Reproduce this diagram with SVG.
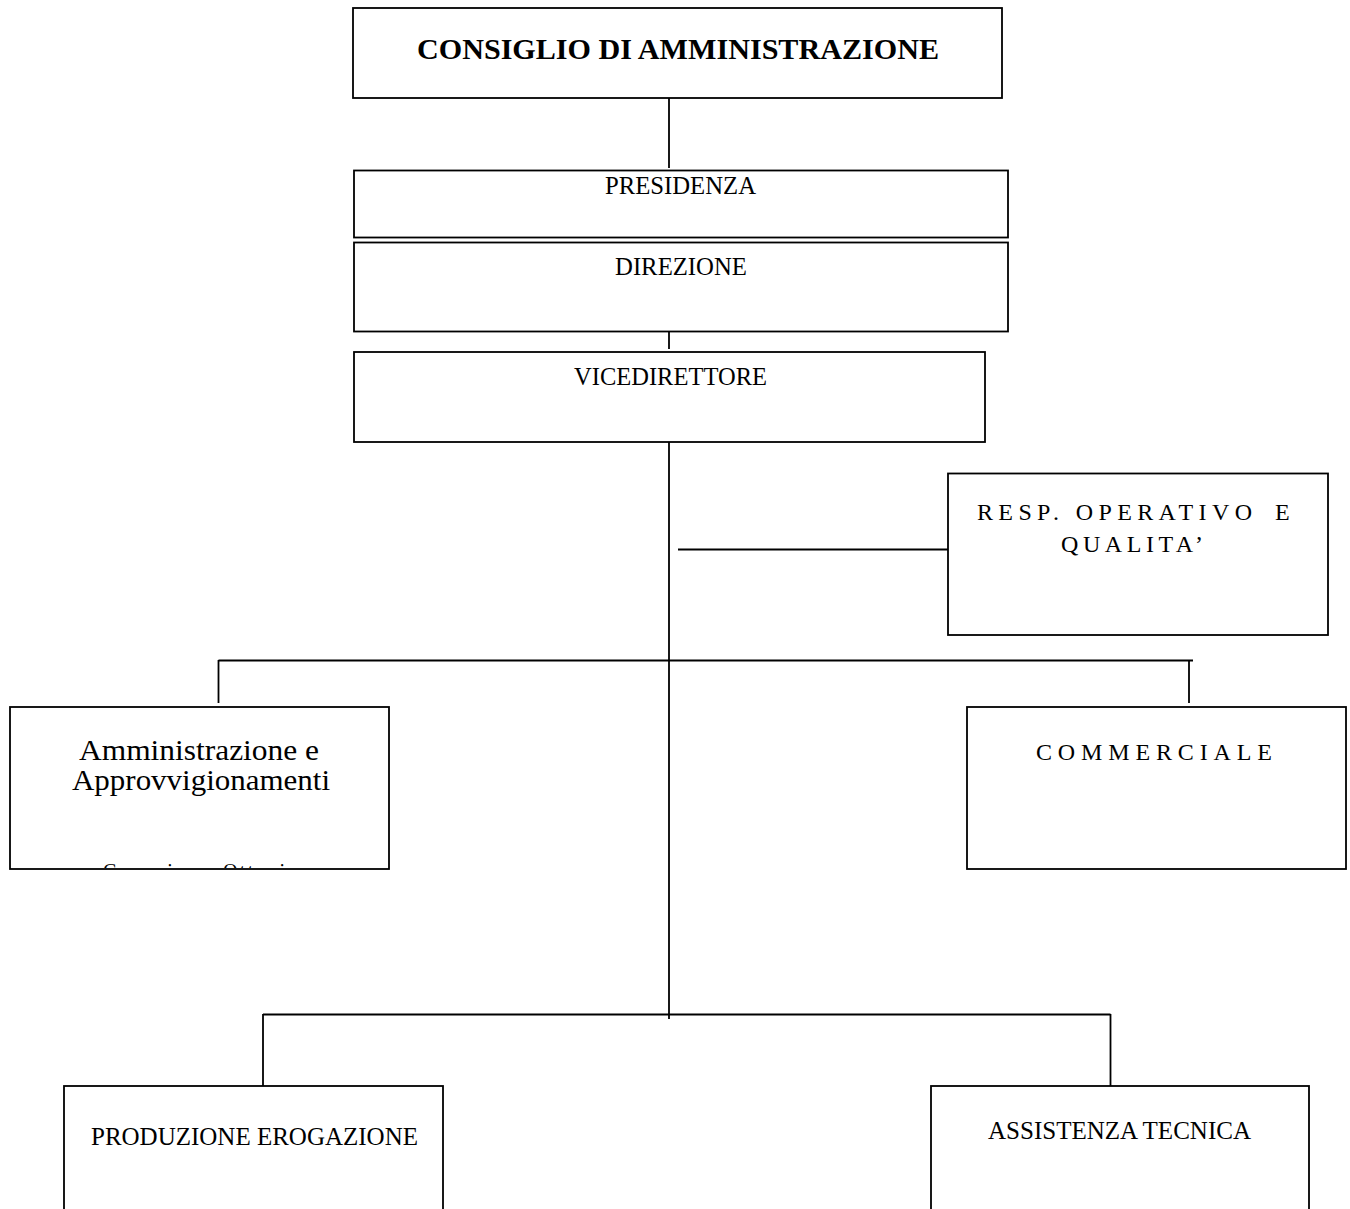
<svg xmlns="http://www.w3.org/2000/svg" width="1350" height="1209" viewBox="0 0 1350 1209">
<style>
  .box { fill: #ffffff; stroke: #000000; stroke-width: 1.8; }
  .ln { stroke: #000000; stroke-width: 1.8; fill: none; }
  text { font-family: "Liberation Serif", "Times New Roman", serif; fill: #000000; }
  .t25 { font-size: 25px; }
  .t24 { font-size: 24px; }
</style>
<defs>
  <clipPath id="clipAmm"><rect x="10" y="707" width="379" height="161"/></clipPath>
</defs>
<rect width="1350" height="1209" fill="#ffffff"/>

<g id="connectors">
  <line class="ln" x1="669" y1="98" x2="669" y2="168"/>
  <line class="ln" x1="669" y1="216" x2="669" y2="238"/>
  <line class="ln" x1="669" y1="326" x2="669" y2="349"/>
  <line class="ln" x1="669" y1="442" x2="669" y2="1019"/>
  <line class="ln" x1="678" y1="549.5" x2="948" y2="549.5"/>
  <line class="ln" x1="218.5" y1="660.5" x2="1193" y2="660.5"/>
  <line class="ln" x1="218.5" y1="660" x2="218.5" y2="703"/>
  <line class="ln" x1="1189" y1="660" x2="1189" y2="703"/>
  <line class="ln" x1="263" y1="1014.5" x2="1110.5" y2="1014.5"/>
  <line class="ln" x1="263" y1="1014" x2="263" y2="1086"/>
  <line class="ln" x1="1110.5" y1="1014" x2="1110.5" y2="1086"/>
</g>

<g id="consiglio">
  <rect class="box" x="353" y="8" width="649" height="90"/>
  <text x="417" y="59" font-size="29" font-weight="bold" textLength="522" lengthAdjust="spacingAndGlyphs">CONSIGLIO DI AMMINISTRAZIONE</text>
</g>

<g id="presidenza">
  <rect class="box" x="354" y="170.5" width="654" height="67"/>
  <text class="t25" x="605" y="194" textLength="151" lengthAdjust="spacingAndGlyphs">PRESIDENZA</text>
</g>

<g id="direzione">
  <rect class="box" x="354" y="242.5" width="654" height="89"/>
  <text class="t25" x="615" y="275" textLength="132" lengthAdjust="spacingAndGlyphs">DIREZIONE</text>
</g>

<g id="vicedirettore">
  <rect class="box" x="354" y="352" width="631" height="90"/>
  <text class="t25" x="574" y="385" textLength="193" lengthAdjust="spacingAndGlyphs">VICEDIRETTORE</text>
</g>

<g id="resp-operativo">
  <rect class="box" x="948" y="473.5" width="380" height="161.5"/>
  <text class="t24" x="977" y="520" textLength="275" lengthAdjust="spacing">RESP. OPERATIVO</text>
  <text class="t24" x="1275" y="520">E</text>
  <text class="t24" x="1061" y="552" textLength="142" lengthAdjust="spacing">QUALITA’</text>
</g>

<g id="amministrazione">
  <rect class="box" x="10" y="707" width="379" height="162"/>
  <text font-size="30" x="79" y="760" textLength="240" lengthAdjust="spacingAndGlyphs">Amministrazione e</text>
  <text font-size="30" x="72" y="790" textLength="258" lengthAdjust="spacingAndGlyphs">Approvvigionamenti</text>
  <g clip-path="url(#clipAmm)">
    <text font-size="20" x="103" y="878" letter-spacing="2.4">Canonico</text>
    <text font-size="20" x="223" y="878" letter-spacing="2.4">Ottavio</text>
  </g>
</g>

<g id="commerciale">
  <rect class="box" x="967" y="707" width="379" height="162"/>
  <text class="t24" x="1036" y="760" textLength="236" lengthAdjust="spacing">COMMERCIALE</text>
</g>

<g id="produzione">
  <rect class="box" x="64" y="1086" width="379" height="130"/>
  <text class="t25" x="91" y="1145" textLength="327" lengthAdjust="spacingAndGlyphs">PRODUZIONE EROGAZIONE</text>
</g>

<g id="assistenza">
  <rect class="box" x="931" y="1086" width="378" height="130"/>
  <text class="t25" x="988" y="1139" textLength="263" lengthAdjust="spacingAndGlyphs">ASSISTENZA TECNICA</text>
</g>
</svg>
